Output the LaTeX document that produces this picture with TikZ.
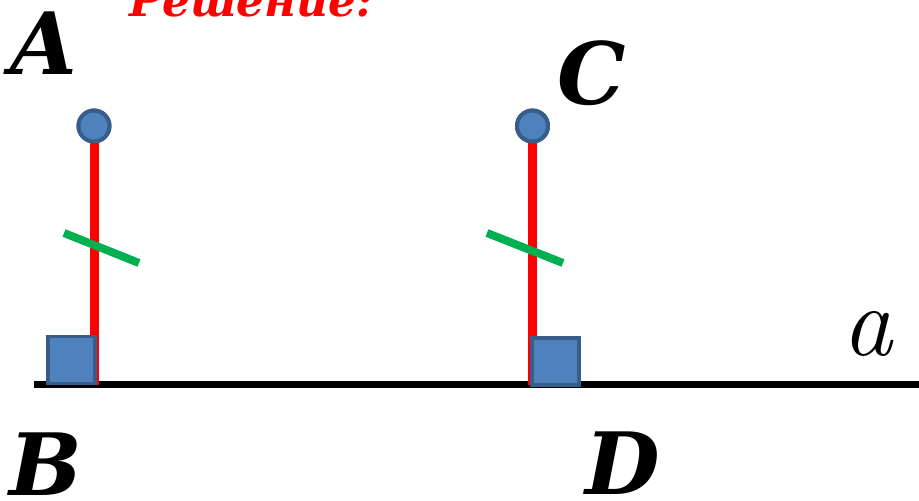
\documentclass[tikz,border=0pt]{standalone}
\usepackage{fontspec}
\newfontfamily\lblfont{DejaVu Serif}
\definecolor{segred}{HTML}{FF0000}
\definecolor{tickgreen}{HTML}{00B050}
\definecolor{ptfill}{HTML}{4F81BD}
\definecolor{ptdraw}{HTML}{385D8A}
\begin{document}
\begin{tikzpicture}[x=1pt,y=-1pt,
  lbl/.style={inner sep=0pt,font=\lblfont\bfseries\itshape\fontsize{86}{86}\selectfont},
  pt/.style={circle,fill=ptfill,draw=ptdraw,line width=4pt,minimum size=31pt,inner sep=0pt},
  rightangle/.style={rectangle,fill=ptfill,draw=ptdraw,line width=3.5pt,minimum size=47pt,inner sep=0pt},
  seg/.style={draw=segred,line width=9pt},
  tick/.style={draw=tickgreen,line width=8pt},
  baseline/.style={draw=black,line width=7pt}]
\useasboundingbox (0,0) rectangle (919,501);
% line a
\coordinate (L) at (34,384.5);
\coordinate (R) at (925,384.5);
\path[baseline] (L) -- (R);
% points
\coordinate (Bf) at (94,384.5);
\coordinate (Df) at (532.5,384.5);
\node[pt] (A) at (94,126) {};
\node[pt] (C) at (532.5,126) {};
\path[seg] (A.center) -- (Bf);
\path[seg] (C.center) -- (Df);
\node[pt] at (A) {};
\node[pt] at (C) {};
% equality ticks
\coordinate (t1a) at (64,233);
\coordinate (t1b) at (139,263);
\coordinate (t2a) at (487,233);
\coordinate (t2b) at (563,263);
\path[tick] (t1a) -- (t1b);
\path[tick] (t2a) -- (t2b);
% right angle marks
\node[rightangle] (sqB) at (71.5,360) {};
\node[rightangle] (sqD) at (555.5,361.5) {};
% labels
\node[lbl] (lA) at (43.5,43.5) {A};
\node[lbl] (lB) at (46,464) {B};
\node[lbl] (lC) at (591.5,73) {C};
\node[lbl] (lD) at (623,463.5) {D};
\node[inner sep=0pt,font=\itshape\fontsize{100}{100}\selectfont] (la) at (867,334) {a};
\node[anchor=base west,inner sep=0pt,text=segred,font=\lblfont\bfseries\itshape\fontsize{44}{44}\selectfont] (title) at (129,16) {Решение:};
\end{tikzpicture}
\end{document}
